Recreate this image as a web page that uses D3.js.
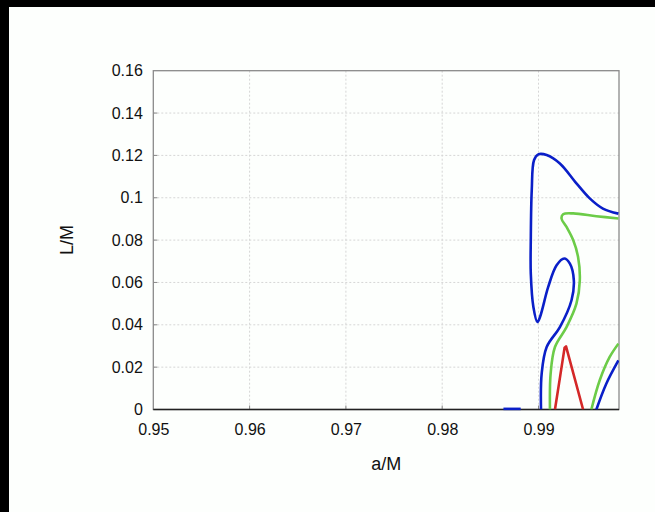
<!DOCTYPE html>
<html><head><meta charset="utf-8">
<script src="https://cdn.jsdelivr.net/npm/d3@7"></script>
<style>
html,body{margin:0;padding:0;background:#000;}
svg{display:block;}
</style></head>
<body>
<svg id="chart" width="655" height="512"></svg>
<script>
const xTicks = [0.95, 0.96, 0.97, 0.98, 0.99];
const yTicks = [0, 0.02, 0.04, 0.06, 0.08, 0.1, 0.12, 0.14, 0.16];
const yTickLabels = ["0","0.02","0.04","0.06","0.08","0.1","0.12","0.14","0.16"];

// blue loop
const blueA = [
  [0.99026,0.0000],[0.99033,0.0169],[0.99085,0.0295],[0.99222,0.0389],[0.99343,0.0516],
  [0.99367,0.0610],[0.99326,0.0689],[0.99267,0.0713],[0.99188,0.0681],[0.99101,0.0579],
  [0.99016,0.0437],[0.98988,0.0413],[0.98947,0.0484],[0.98920,0.0642],[0.98920,0.0800],
  [0.98930,0.1036],[0.98954,0.1178],[0.98998,0.1205],[0.99085,0.1202],[0.99222,0.1162],
  [0.99394,0.1068],[0.99532,0.0997],[0.99669,0.0949],[0.99830,0.0925]
];
const blueB = [[0.99601,0.0000],[0.99704,0.0122],[0.99830,0.0232]];
const blueC = [[0.98636,0.0003],[0.98815,0.0003]];
const greenA = [
  [0.99119,0.0000],[0.99126,0.0169],[0.99171,0.0295],[0.99291,0.0389],[0.99394,0.0500],
  [0.99429,0.0610],[0.99411,0.0720],[0.99360,0.0800],[0.99291,0.0862],[0.99239,0.0902],
  [0.99256,0.0922],[0.99360,0.0926],[0.99601,0.0913],[0.99830,0.0902]
];
const greenB = [[0.99549,0.0000],[0.99635,0.0137],[0.99738,0.0247],[0.99830,0.0311]];
const redA = [[0.99171,0.0000],[0.99226,0.0160],[0.99271,0.0292],[0.99286,0.0298],[0.99463,0.0000]];

const svg = d3.select("#chart");
svg.append("rect").attr("x",9).attr("y",7).attr("width",646).attr("height",505).attr("fill","#fdfffd");

const m = {l:153.3, r:619, t:70.7, b:409.5};
const x = d3.scaleLinear().domain([0.95,0.99836]).range([m.l,m.r]);
const y = d3.scaleLinear().domain([0,0.16]).range([m.b,m.t]);
const FONT = "Liberation Sans, Arial, Helvetica, sans-serif";

// grid
const g = svg.append("g");
g.selectAll(".vg").data(xTicks.slice(1)).enter().append("line")
  .attr("x1",d=>x(d)).attr("x2",d=>x(d)).attr("y1",m.t).attr("y2",m.b)
  .attr("stroke","#d6d6d6").attr("stroke-width",1).attr("stroke-dasharray","2,2");
g.selectAll(".hg").data(yTicks.slice(1,-1)).enter().append("line")
  .attr("x1",m.l).attr("x2",m.r).attr("y1",d=>y(d)).attr("y2",d=>y(d))
  .attr("stroke","#d6d6d6").attr("stroke-width",1).attr("stroke-dasharray","2,2");

// axes
const xAxis = d3.axisBottom(x).tickValues(xTicks).tickSize(0).tickPadding(14).tickFormat(d3.format(".2f"));
const yAxis = d3.axisLeft(y).tickValues(yTicks).tickSize(0).tickPadding(10.5).tickFormat((d,i)=>yTickLabels[i]);
const gx = svg.append("g").attr("transform",`translate(0,${m.b})`).call(xAxis);
const gy = svg.append("g").attr("transform",`translate(${m.l},0)`).call(yAxis);
[gx,gy].forEach(a=>{
  a.select(".domain").remove();
  a.selectAll("text").attr("font-family",FONT).attr("font-size",16).attr("fill","#111");
});
// inner tick marks
svg.selectAll(".yt").data(yTicks.slice(1,-1)).enter().append("line")
  .attr("x1",m.l).attr("x2",m.l+4).attr("y1",d=>y(d)).attr("y2",d=>y(d)).attr("stroke","#888");
svg.selectAll(".xt").data(xTicks.slice(1)).enter().append("line")
  .attr("x1",d=>x(d)).attr("x2",d=>x(d)).attr("y1",m.b).attr("y2",m.b-4).attr("stroke","#888");

// frame
svg.append("rect").attr("x",m.l).attr("y",m.t).attr("width",m.r-m.l).attr("height",m.b-m.t)
  .attr("fill","none").attr("stroke","#8a8a8a").attr("stroke-width",1.3);
svg.append("line").attr("x1",m.l).attr("x2",m.r).attr("y1",m.b).attr("y2",m.b).attr("stroke","#222").attr("stroke-width",1.3);

// clip
svg.append("clipPath").attr("id","clip").append("rect")
  .attr("x",m.l).attr("y",m.t-2).attr("width",m.r-m.l).attr("height",m.b-m.t+2);

const line = d3.line().x(d=>x(d[0])).y(d=>y(d[1])).curve(d3.curveCatmullRom.alpha(0.5));
const lin = d3.line().x(d=>x(d[0])).y(d=>y(d[1]));
const cg = svg.append("g").attr("clip-path","url(#clip)");
const blue="#0a1fc8", green="#6ccc48", red="#d42828";
cg.append("path").attr("d",line(greenA)).attr("fill","none").attr("stroke",green).attr("stroke-width",2.6);
cg.append("path").attr("d",line(greenB)).attr("fill","none").attr("stroke",green).attr("stroke-width",2.6);
cg.append("path").attr("d",lin(redA)).attr("fill","none").attr("stroke",red).attr("stroke-width",2.6).attr("stroke-linejoin","round");
cg.append("path").attr("d",line(blueA)).attr("fill","none").attr("stroke",blue).attr("stroke-width",2.6);
cg.append("path").attr("d",line(blueB)).attr("fill","none").attr("stroke",blue).attr("stroke-width",2.6);
svg.append("path").attr("d",lin(blueC)).attr("fill","none").attr("stroke",blue).attr("stroke-width",2.6);

// labels
svg.append("text").attr("x",(m.l+m.r)/2).attr("y",469.5).attr("text-anchor","middle")
  .attr("font-family",FONT).attr("font-size",18).attr("fill","#111").text("a/M");
svg.append("text").attr("transform",`translate(73,${(m.t+m.b)/2}) rotate(-90)`).attr("text-anchor","middle")
  .attr("font-family",FONT).attr("font-size",18).attr("fill","#111").text("L/M");
</script>
</body></html>
